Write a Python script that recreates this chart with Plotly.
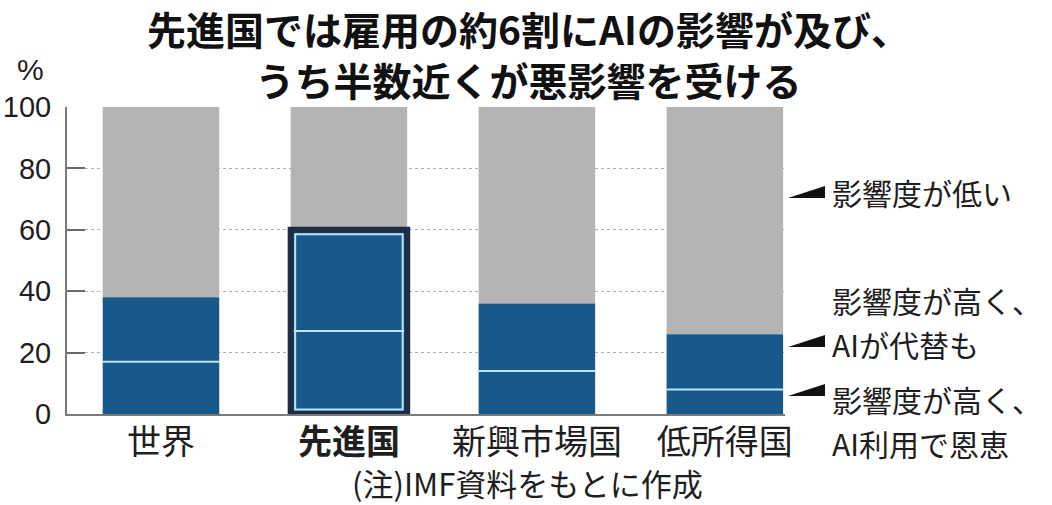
import plotly.graph_objects as go

# ---- data ----
categories = ['世界', '先進国', '新興市場国', '低所得国']
benefit = [17, 27, 14, 8]      # 影響度が高く、AI利用で恩恵
replace = [21, 33, 22, 18]     # 影響度が高く、AIが代替も
low = [62, 40, 64, 74]         # 影響度が低い
y_ticks = [0, 20, 40, 60, 80, 100]
highlight = '先進国'

# ---- layout constants ----
W, H = 1052, 505
ML, MR, MT, MB = 67, 267, 107, 91
X_RANGE = [-0.5, 3.32]
Y_RANGE = [0, 100]
BAR_W = 0.62
PLOT_W = W - ML - MR
PLOT_H = H - MT - MB
PX_X = PLOT_W / (X_RANGE[1] - X_RANGE[0])
PX_Y = PLOT_H / (Y_RANGE[1] - Y_RANGE[0])

BLUE = '#18588b'
GRAY = '#b4b4b4'
NAVY = '#1c2e44'
LIGHT = '#b9e5f8'
TXT = '#1e1e1e'
JP = 'Noto Sans CJK JP'
LAT = 'Liberation Sans, Arial, Helvetica, sans-serif'


def px_x(px):
    return (px - ML) / PLOT_W


def px_y(py):
    return (H - MB - py) / PLOT_H


mid_base = list(benefit)
top_base = [b + r for b, r in zip(benefit, replace)]
hi = categories.index(highlight)
hi_total = benefit[hi] + replace[hi]

fig = go.Figure()
fig.add_bar(x=categories, y=low, base=top_base, width=BAR_W,
            marker=dict(color=GRAY, line_width=0), hoverinfo='skip')
fig.add_bar(x=categories, y=replace, base=mid_base, width=BAR_W,
            marker=dict(color=BLUE, line_width=0), hoverinfo='skip')
fig.add_bar(x=categories, y=benefit, width=BAR_W,
            marker=dict(color=BLUE, line_width=0), hoverinfo='skip',
            error_y=dict(type='data', array=[0] * len(categories),
                         width=BAR_W * PX_X / 2, thickness=2, color=LIGHT))

# highlight frame around 先進国
NAVY_LW = 6
LIGHT_LW = 2
inset_px = NAVY_LW / 2 + LIGHT_LW / 2 + 0.5
fig.add_bar(x=[highlight], y=[hi_total], width=BAR_W,
            marker=dict(color='rgba(0,0,0,0)', line=dict(color=NAVY, width=NAVY_LW)),
            hoverinfo='skip')
fig.add_bar(x=[highlight], y=[hi_total - 2 * inset_px / PX_Y], base=[inset_px / PX_Y],
            width=BAR_W - 2 * inset_px / PX_X,
            marker=dict(color='rgba(0,0,0,0)', line=dict(color=LIGHT, width=LIGHT_LW)),
            hoverinfo='skip')

ticktext = [('<b>%s</b>' % c) if c == highlight else c for c in categories]

fig.update_layout(
    width=W, height=H,
    margin=dict(l=ML, r=MR, t=MT, b=MB, pad=0, autoexpand=False),
    barmode='overlay',
    showlegend=False,
    plot_bgcolor='white', paper_bgcolor='white',
    xaxis=dict(type='category', range=X_RANGE, categoryorder='array',
               categoryarray=categories, tickvals=categories, ticktext=ticktext,
               automargin=False,
               showgrid=False, zeroline=False, showline=True, linecolor='#7a7a7a',
               linewidth=2, ticks='', ticklabelstandoff=-3,
               tickfont=dict(family=JP, size=34, color=TXT)),
    yaxis=dict(range=Y_RANGE, tickvals=y_ticks, ticktext=[str(v) for v in y_ticks],
               automargin=False,
               showgrid=True, gridcolor='#b0b0b0', griddash='3px,3px', gridwidth=1,
               zeroline=False, showline=True, linecolor='#7a7a7a', linewidth=2,
               ticks='inside', ticklen=18, tickwidth=2, tickcolor='#6a6a6a',
               ticklabelstandoff=8,
               tickfont=dict(family=LAT, size=29, color=TXT)),
)

annotations = []
# title (two lines)
annotations.append(dict(text='<b>先進国では雇用の約6割にAIの影響が及び、<br>うち半数近くが悪影響を受ける</b>',
                        x=px_x(528), y=px_y(54), align='center',
                        font=dict(family=JP, size=39, color='#111')))
# unit
annotations.append(dict(text='%', x=px_x(30), y=px_y(70),
                        font=dict(family=LAT, size=30, color=TXT)))
# note
annotations.append(dict(text='(注)IMF資料をもとに作成', x=px_x(527), y=px_y(482),
                        font=dict(family=JP, size=31, color=TXT)))
# legend labels on right (one annotation per line)
for txt, ypx in [('影響度が低い', 192),
                 ('影響度が高く、', 300), ('AIが代替も', 344),
                 ('影響度が高く、', 399), ('AI利用で恩恵', 443)]:
    annotations.append(dict(text=txt, x=px_x(830), y=px_y(ypx), xanchor='left',
                            align='left', font=dict(family=JP, size=30, color=TXT)))
for a in annotations:
    a.setdefault('xanchor', 'center')
    a.update(xref='paper', yref='paper', yanchor='middle', showarrow=False)
fig.update_layout(annotations=annotations)

# wedge pointers
shapes = []
for bottom_px, top_px in [(198, 186), (347, 335), (396, 384)]:
    x0, x1 = px_x(788), px_x(825)
    yb, yt = px_y(bottom_px), px_y(top_px)
    shapes.append(dict(type='path', xref='paper', yref='paper',
                       path='M %f,%f L %f,%f L %f,%f Z' % (x0, yb, x1, yb, x1, yt),
                       fillcolor='#111', line=dict(width=0)))
fig.update_layout(shapes=shapes)

fig.write_html('out.html')
